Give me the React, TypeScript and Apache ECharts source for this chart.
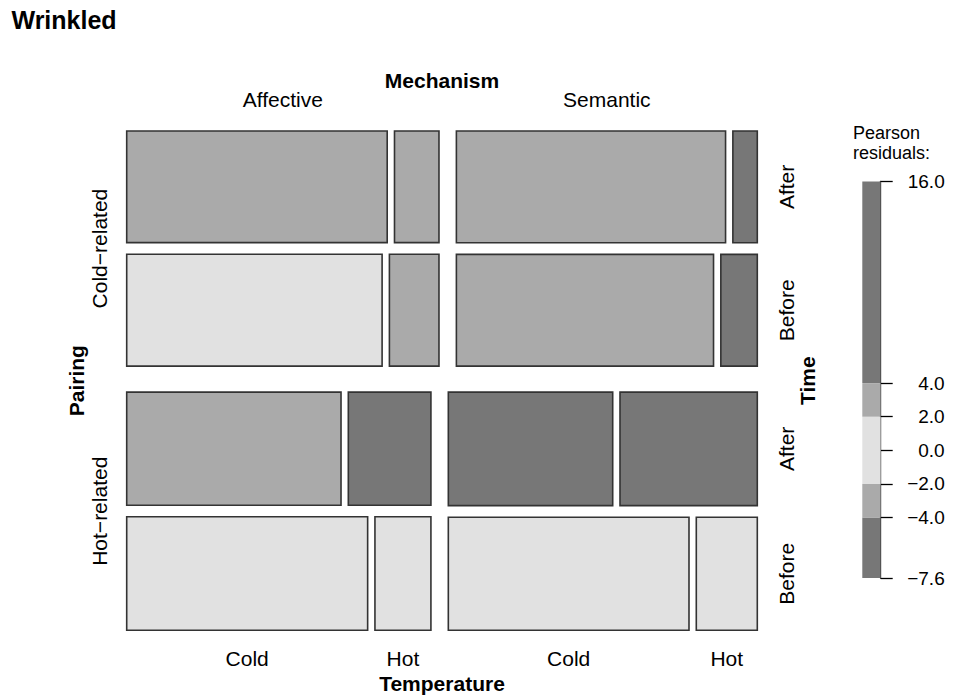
import React, { useEffect, useRef } from "react";
import * as echarts from "echarts";

// Factor levels, in split order: Pairing (rows), Mechanism (columns),
// Time (rows inside), Temperature (columns inside)
const pairingLevels = ["Cold−related", "Hot−related"];
const mechanismLevels = ["Affective", "Semantic"];
const timeLevels = ["After", "Before"];
const temperatureLevels = ["Cold", "Hot"];

// Frequencies: [time][temperature] for each Pairing × Mechanism block
const coldAffective = [
  [691, 118],
  [680, 132],
];
const coldSemantic = [
  [716, 65],
  [684, 97],
];
const hotAffective = [
  [576, 222],
  [650, 151],
];
const hotSemantic = [
  [443, 370],
  [647, 164],
];

// Residual legend
const legendTicks = [-7.6, -4, -2, 0, 2, 4, 16];
const legendBreaks = [-7.6, -4, -2, 2, 4, 16];
const shadeCuts = [2, 4];
const shadeColors = ["#e1e1e1", "#aaaaaa", "#777777"];

const FONT = "'Liberation Sans', Arial, Helvetica, sans-serif";

// Plot region and gaps between tiles (px) for each split level
const PLOT = { left: 126.7, top: 131, width: 630.6, height: 499.3 };
const GAP = { pairing: 26, mechanism: 17.4, time: 11.6, temperature: 7.3 };

const counts = [
  [coldAffective, coldSemantic],
  [hotAffective, hotSemantic],
];

const sum = (a: number[]) => a.reduce((s, v) => s + v, 0);

function shade(r: number) {
  const a = Math.abs(r);
  if (a > shadeCuts[1]) return shadeColors[2];
  if (a > shadeCuts[0]) return shadeColors[1];
  return shadeColors[0];
}

type Cell = { x0: number; x1: number; y0: number; y1: number; res: number };

function buildMosaic() {
  const nP = pairingLevels.length;
  const nM = mechanismLevels.length;
  const nT = timeLevels.length;
  const nTe = temperatureLevels.length;

  const totPMT = counts.map((p) => p.map((m) => m.map((t) => sum(t))));
  const totPM = totPMT.map((p) => p.map((m) => sum(m)));
  const totP = totPM.map((p) => sum(p));
  const N = sum(totP);

  // one-way margins for the mutual independence model
  const mP = totP.map((v) => v / N);
  const mM = mechanismLevels.map((_, m) => sum(counts.map((p) => sum(p[m].map((t) => sum(t))))) / N);
  const mT = timeLevels.map((_, t) => sum(counts.map((p) => sum(p.map((m) => sum(m[t]))))) / N);
  const mTe = temperatureLevels.map(
    (_, te) => sum(counts.map((p) => sum(p.map((m) => sum(m.map((t) => t[te])))))) / N
  );

  const gp = GAP.pairing / PLOT.height;
  const gt = GAP.time / PLOT.height;
  const gm = GAP.mechanism / PLOT.width;
  const gte = GAP.temperature / PLOT.width;

  const cells: Cell[] = [];
  const pairingSpan: number[][] = [];
  const mechSpan: number[][][] = [];
  const timeSpan: number[][][][] = [];
  const tempSpan: number[][][][][] = [];

  let y = 0;
  const availP = 1 - gp * (nP - 1);
  for (let p = 0; p < nP; p++) {
    const h = (availP * totP[p]) / N;
    pairingSpan.push([y, y + h]);
    mechSpan.push([]);
    timeSpan.push([]);
    tempSpan.push([]);
    let x = 0;
    const availM = 1 - gm * (nM - 1);
    for (let m = 0; m < nM; m++) {
      const w = (availM * totPM[p][m]) / totP[p];
      mechSpan[p].push([x, x + w]);
      timeSpan[p].push([]);
      tempSpan[p].push([]);
      let yy = y;
      const availT = h - gt * (nT - 1);
      for (let t = 0; t < nT; t++) {
        const ht = (availT * totPMT[p][m][t]) / totPM[p][m];
        timeSpan[p][m].push([yy, yy + ht]);
        tempSpan[p][m].push([]);
        let xx = x;
        const availTe = w - gte * (nTe - 1);
        for (let te = 0; te < nTe; te++) {
          const obs = counts[p][m][t][te];
          const wt = (availTe * obs) / totPMT[p][m][t];
          const exp = N * mP[p] * mM[m] * mT[t] * mTe[te];
          cells.push({ x0: xx, x1: xx + wt, y0: yy, y1: yy + ht, res: (obs - exp) / Math.sqrt(exp) });
          tempSpan[p][m][t].push([xx, xx + wt]);
          xx += wt + gte;
        }
        yy += ht + gt;
      }
      x += w + gm;
    }
    y += h + gp;
  }
  return { cells, pairingSpan, mechSpan, timeSpan, tempSpan };
}

type Label = { x: number; y: number; text: string; side: "top" | "bottom" | "left" | "right"; bold?: boolean; offset: number };

function buildLabels(m: ReturnType<typeof buildMosaic>): Label[] {
  const labels: Label[] = [];
  const mid = (s: number[]) => (s[0] + s[1]) / 2;
  const lastP = pairingLevels.length - 1;
  const lastM = mechanismLevels.length - 1;
  const lastT = timeLevels.length - 1;
  // variable names
  labels.push({ x: 0.5, y: 0, text: "Mechanism", side: "top", bold: true, offset: 51 });
  labels.push({ x: 0.5, y: 1, text: "Temperature", side: "bottom", bold: true, offset: 53 });
  labels.push({ x: 0, y: 0.5, text: "Pairing", side: "left", bold: true, offset: 50 });
  labels.push({ x: 1, y: 0.5, text: "Time", side: "right", bold: true, offset: 50 });
  // Mechanism levels along the top row
  mechanismLevels.forEach((name, i) =>
    labels.push({ x: mid(m.mechSpan[0][i]), y: 0, text: name, side: "top", offset: 32 })
  );
  // Temperature levels under the bottom row
  mechanismLevels.forEach((_, i) =>
    temperatureLevels.forEach((name, k) =>
      labels.push({ x: mid(m.tempSpan[lastP][i][lastT][k]), y: 1, text: name, side: "bottom", offset: 28 })
    )
  );
  // Pairing levels on the left
  pairingLevels.forEach((name, i) =>
    labels.push({ x: 0, y: mid(m.pairingSpan[i]), text: name, side: "left", offset: 27 })
  );
  // Time levels on the right
  pairingLevels.forEach((_, i) =>
    timeLevels.forEach((name, k) =>
      labels.push({ x: 1, y: mid(m.timeSpan[i][lastM][k]), text: name, side: "right", offset: 29 })
    )
  );
  return labels;
}

export default function App() {
  const ref = useRef<HTMLDivElement>(null);

  useEffect(() => {
    document.body.style.margin = "0";
    if (!ref.current) return;
    const chart = echarts.init(ref.current, undefined, { renderer: "svg" });

    const mosaic = buildMosaic();
    const labels = buildLabels(mosaic);

    const option: any = {
      animation: false,
      backgroundColor: "#ffffff",
      grid: [
        { left: PLOT.left, top: PLOT.top, width: PLOT.width, height: PLOT.height, outerBoundsMode: "none" },
        { left: 862.3, top: 181.5, width: 18.4, height: 396.5, outerBoundsMode: "none" },
      ],
      xAxis: [
        { gridIndex: 0, type: "value", min: 0, max: 1, show: false },
        { gridIndex: 1, type: "value", min: 0, max: 1, show: false },
      ],
      yAxis: [
        { gridIndex: 0, type: "value", min: 0, max: 1, inverse: true, show: false },
        {
          gridIndex: 1,
          type: "value",
          min: legendBreaks[0],
          max: legendBreaks[legendBreaks.length - 1],
          position: "right",
          axisLine: { show: true, onZero: false, lineStyle: { color: "#000", width: 1.3 } },
          axisTick: { show: true, length: 12, customValues: legendTicks, lineStyle: { color: "#000", width: 1.3 } },
          axisLabel: {
            show: true,
            customValues: legendTicks,
            formatter: (v: number) => v.toFixed(1).replace("-", "−"),
            color: "#000",
            fontFamily: FONT,
            fontSize: 19,
            align: "right",
            margin: 64,
          },
          splitLine: { show: false },
        },
      ],
      graphic: [
        {
          type: "text",
          x: 11.5,
          y: 19.5,
          style: { text: "Wrinkled", fill: "#000", font: `bold 25px ${FONT}`, align: "left", verticalAlign: "middle" },
        },
        {
          type: "text",
          x: 853,
          y: 123,
          style: {
            text: "Pearson\nresiduals:",
            fill: "#000",
            font: `18px ${FONT}`,
            lineHeight: 20,
            align: "left",
            verticalAlign: "top",
          },
        },
      ],
      series: [
        {
          type: "custom",
          name: "tiles",
          xAxisIndex: 0,
          yAxisIndex: 0,
          silent: true,
          data: mosaic.cells.map((c) => [c.x0, c.x1, c.y0, c.y1, c.res]),
          encode: { x: [0, 1], y: [2, 3] },
          renderItem: (_params: any, api: any) => {
            const p0 = api.coord([api.value(0), api.value(2)]);
            const p1 = api.coord([api.value(1), api.value(3)]);
            return {
              type: "rect",
              shape: { x: p0[0], y: p0[1], width: p1[0] - p0[0], height: p1[1] - p0[1] },
              style: { fill: shade(api.value(4)), stroke: "#333333", lineWidth: 1.6 },
            };
          },
        },
        {
          type: "custom",
          name: "labels",
          xAxisIndex: 0,
          yAxisIndex: 0,
          silent: true,
          data: labels.map((l) => [l.x, l.y]),
          renderItem: (params: any, api: any) => {
            const l = labels[params.dataIndex];
            const p = api.coord([api.value(0), api.value(1)]);
            let x = p[0];
            let y = p[1];
            let rotation = 0;
            if (l.side === "top") y -= l.offset;
            if (l.side === "bottom") y += l.offset;
            if (l.side === "left") {
              x -= l.offset;
              rotation = Math.PI / 2;
            }
            if (l.side === "right") {
              x += l.offset;
              rotation = Math.PI / 2;
            }
            return {
              type: "text",
              x,
              y,
              rotation,
              style: {
                text: l.text,
                fill: "#000",
                font: `${l.bold ? "bold " : ""}21px ${FONT}`,
                align: "center",
                verticalAlign: "middle",
              },
            };
          },
        },
        {
          type: "custom",
          name: "legend",
          xAxisIndex: 1,
          yAxisIndex: 1,
          silent: true,
          data: legendBreaks.slice(0, -1).map((lo, i) => [lo, legendBreaks[i + 1]]),
          encode: { y: [0, 1] },
          renderItem: (_params: any, api: any) => {
            const lo = api.value(0);
            const hi = api.value(1);
            const a = api.coord([0, hi]);
            const b = api.coord([1, lo]);
            return {
              type: "rect",
              shape: { x: a[0], y: a[1], width: b[0] - a[0], height: b[1] - a[1] },
              style: { fill: shade((lo + hi) / 2) },
            };
          },
        },
      ],
    };

    chart.setOption(option);
    return () => chart.dispose();
  }, []);

  return <div ref={ref} style={{ width: 959, height: 696 }} />;
}
